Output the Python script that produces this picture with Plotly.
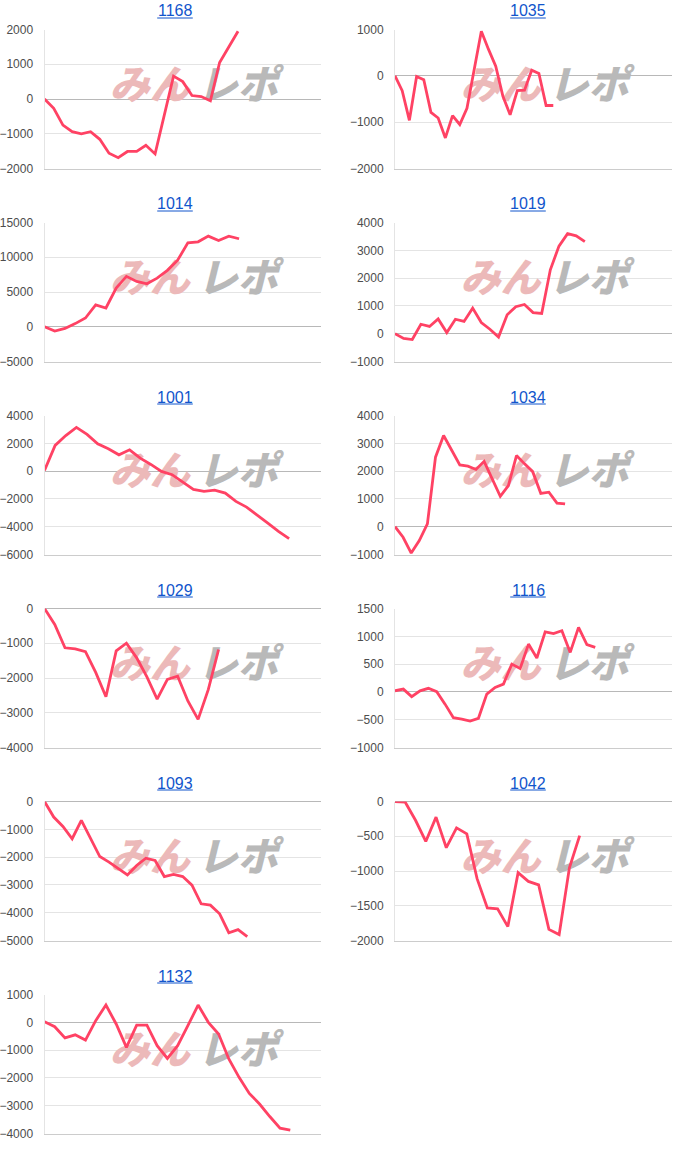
import plotly.graph_objects as go

W, H = 700, 1158

# ---- data ----
names = ["1168", "1035", "1014", "1019", "1001", "1034", "1029", "1116", "1093", "1042", "1132"]

v1168 = [0, -270, -750, -940, -1000, -940, -1160, -1560, -1690, -1510, -1510, -1330, -1580, -460,
         660, 500, 100, 70, -50, 1050, 1500, 1950]
v1035 = [0, -320, -960, -15, -85, -790, -910, -1340, -860, -1050, -700, 100, 960, 570, 210, -440,
         -840, -320, -310, 120, 50, -640, -640]
v1014 = [0, -630, -240, 450, 1260, 3140, 2700, 5560, 7250, 6520, 6180, 7000, 8120, 9570, 12080,
         12220, 13040, 12420, 13040, 12660]
v1019 = [0, -170, -210, 340, 260, 530, 40, 520, 440, 920, 400, 160, -120, 680, 970, 1050, 760, 730,
         2300, 3150, 3600, 3520, 3310]
v1001 = [50, 1850, 2560, 3140, 2640, 1970, 1600, 1170, 1530, 930, 480, -20, -260, -790, -1320, -1460,
         -1370, -1580, -2180, -2590, -3140, -3740, -4340, -4860]
v1034 = [0, -380, -950, -500, 100, 2500, 3280, 2740, 2220, 2180, 2060, 2350, 1700, 1090, 1480, 2560,
         2260, 1980, 1200, 1240, 850, 820]
v1029 = [0, -460, -1130, -1160, -1240, -1840, -2540, -1220, -1000, -1420, -1970, -2610, -2040, -1950,
         -2660, -3190, -2330, -1180]
v1116 = [20, 50, -85, 20, 65, 5, -220, -465, -490, -525, -475, -40, 80, 140, 500, 420, 860, 610, 1080,
         1050, 1100, 710, 1160, 850, 800]
v1093 = [0, -560, -900, -1340, -680, -1340, -1980, -2180, -2420, -2640, -2300, -2040, -2120, -2700,
         -2620, -2700, -3010, -3680, -3730, -4040, -4720, -4610, -4860]
v1042 = [0, -10, -270, -575, -225, -665, -380, -465, -1110, -1530, -1545, -1800, -1025, -1150, -1200,
         -1840, -1915, -955, -490]
v1132 = [20, -160, -560, -450, -640, 60, 620, -60, -900, -100, -100, -840, -1300, -840, -120, 620, 0,
         -420, -1320, -1980, -2560, -2940, -3390, -3810, -3880]

series = [v1168, v1035, v1014, v1019, v1001, v1034, v1029, v1116, v1093, v1042, v1132]

y_min = [-2000, -2000, -5000, -1000, -6000, -1000, -4000, -1000, -5000, -2000, -4000]
y_max = [2000, 1000, 15000, 4000, 4000, 4000, 0, 1500, 0, 0, 1000]
y_step = [1000, 1000, 5000, 1000, 2000, 1000, 1000, 500, 1000, 500, 1000]
x_span = [30, 38.5, 27, 32.1, 26, 34.2, 27, 33.2, 30, 27, 27]

# ---- styling ----
LINE = "#ff4264"
GRID = "#e4e4e4"
ZERO = "#b8b8b8"
BASE = "#cccccc"
TXT = "#4d4d4d"
LINK = "#1155cc"

fig = go.Figure()
layout = dict(
    template="none",
    width=W, height=H, margin=dict(l=0, r=0, t=0, b=0, pad=0, autoexpand=False),
    paper_bgcolor="white", plot_bgcolor="white", showlegend=False,
    font=dict(family="Arial, Liberation Sans, sans-serif", size=12, color=TXT),
    annotations=[], shapes=[],
)

for i, (name, vals) in enumerate(zip(names, series)):
    n = i + 1
    sfx = "" if n == 1 else str(n)
    row, col = divmod(i, 2)
    x0, x1 = (44.5, 321) if col == 0 else (395, 672)
    top = 29.5 + 193 * row
    bot = top + 139
    R = x_span[i]
    lo, hi = y_min[i], y_max[i]

    layout["xaxis" + sfx] = dict(
        domain=[x0 / W, x1 / W], range=[0, R], anchor="y" + sfx,
        showgrid=False, zeroline=False, showticklabels=False, ticks="",
        showline=True, linecolor=BASE, linewidth=1, fixedrange=True, automargin=False,
    )
    layout["yaxis" + sfx] = dict(
        domain=[(H - bot) / H, (H - top) / H], range=[lo, hi], anchor="x" + sfx,
        tick0=0, dtick=y_step[i], tickformat="d",
        showgrid=True, gridcolor=GRID, gridwidth=1,
        zeroline=True, zerolinecolor=ZERO, zerolinewidth=1,
        showline=True, linecolor=GRID, linewidth=1, ticks="",
        ticklabelstandoff=8, tickfont=dict(size=12, color=TXT), fixedrange=True, automargin=False,
    )

    # watermark (drawn beneath the line)
    pw = x1 - x0
    xc = R * (pw / 2 + 11) / pw
    dx = R * 44 / pw
    yc = hi - (hi - lo) * (59 / 139)
    fig.add_trace(go.Scatter(
        x=[xc - dx], y=[yc], mode="text", text=["みん"],
        textfont=dict(family="Noto Sans CJK JP", size=40, color="#ecb9b9", weight=900, style="italic"),
        xaxis="x" + sfx, yaxis="y" + sfx, hoverinfo="skip",
    ))
    fig.add_trace(go.Scatter(
        x=[xc + dx], y=[yc], mode="text", text=["レポ"],
        textfont=dict(family="Noto Sans CJK JP", size=40, color="#b9b9b9", weight=900, style="italic"),
        xaxis="x" + sfx, yaxis="y" + sfx, hoverinfo="skip",
    ))

    fig.add_trace(go.Scatter(
        x=list(range(len(vals))), y=vals, mode="lines",
        line=dict(color=LINE, width=2.8), xaxis="x" + sfx, yaxis="y" + sfx,
    ))

    tx = 175 if col == 0 else 528
    ty = top - 18.5
    layout["annotations"].append(dict(
        xref="paper", yref="paper", x=tx / W, y=(H - ty) / H,
        xanchor="center", yanchor="middle", showarrow=False,
        text=name,
        font=dict(family="Arial, Liberation Sans, sans-serif", size=16, color=LINK),
    ))
    half = len(name) * 16 * 0.556 / 2
    layout["shapes"].append(dict(
        type="line", xref="paper", yref="paper",
        x0=(tx - half) / W, x1=(tx + half) / W,
        y0=(H - ty - 7) / H, y1=(H - ty - 7) / H,
        line=dict(color=LINK, width=1),
    ))

fig.update_layout(**layout)
fig.write_html("out.html")
